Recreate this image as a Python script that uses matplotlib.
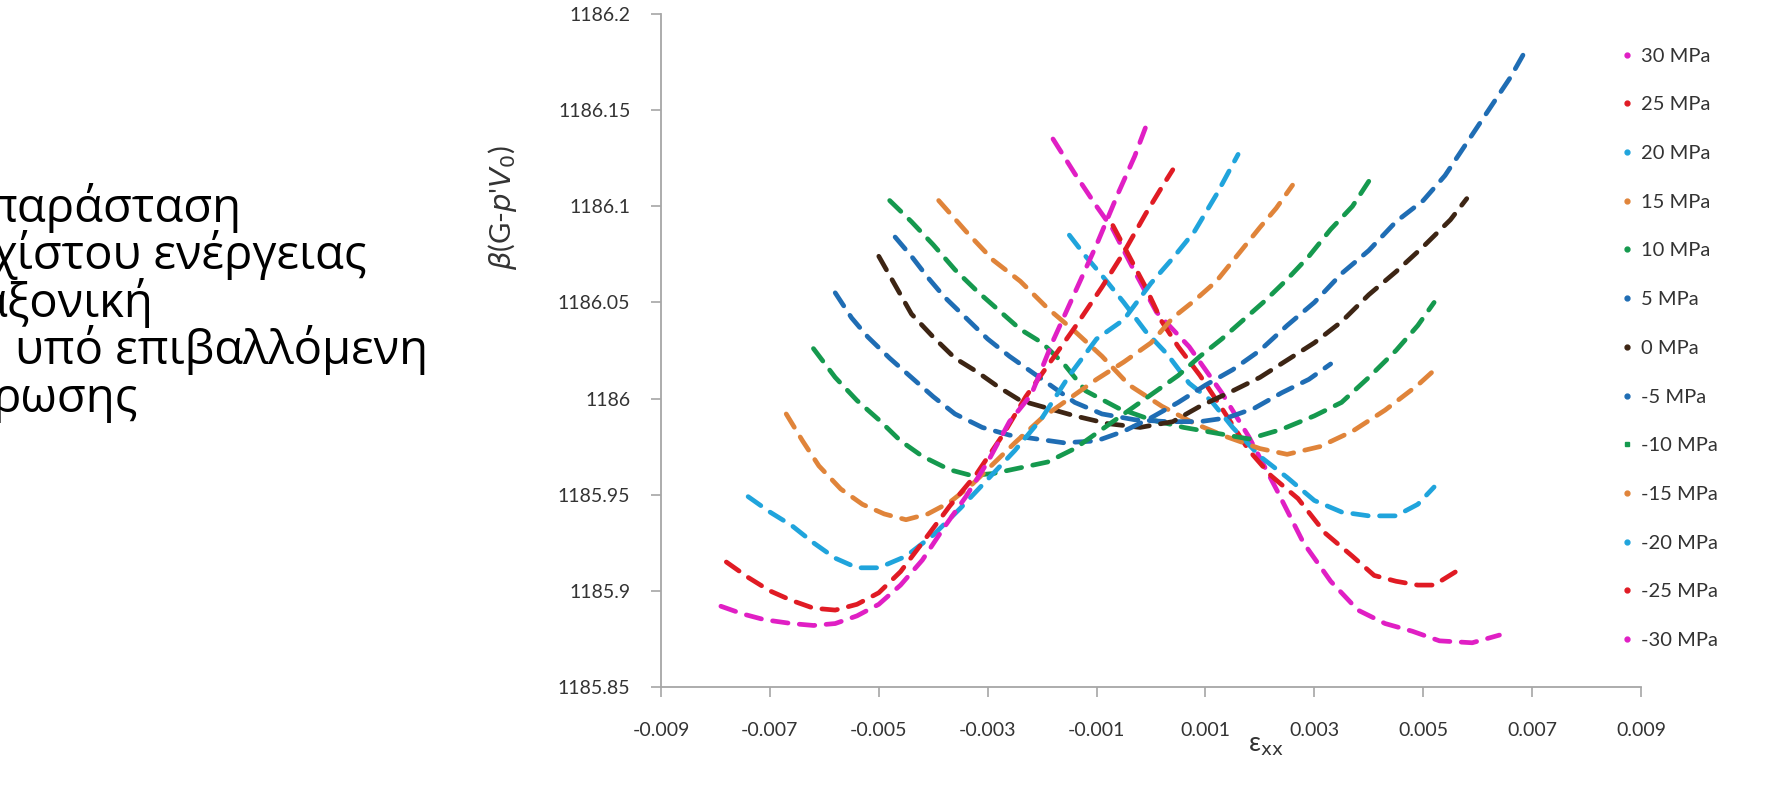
import matplotlib
matplotlib.use('Agg')
import matplotlib.pyplot as plt
from matplotlib.lines import Line2D
from matplotlib.ticker import FormatStrFormatter

# strain values and beta(G - p'V0), one curve per stress
p30_x = [-0.0018, -0.0014, -0.0010, -0.0007, -0.0003, 0.0001, 0.0007, 0.0013, 0.0018, 0.0023, 0.0028, 0.0033, 0.0038, 0.0043, 0.0048, 0.0053, 0.0059, 0.0064]
p30_y = [1186.135, 1186.117, 1186.100, 1186.088, 1186.066, 1186.045, 1186.027, 1186.003, 1185.980, 1185.953, 1185.925, 1185.905, 1185.890, 1185.883, 1185.879, 1185.874, 1185.873, 1185.877]

p25_x = [-0.0007, -0.0004, -0.0001, 0.0002, 0.0005, 0.0009, 0.0013, 0.0018, 0.0022, 0.0027, 0.0032, 0.0037, 0.0041, 0.0045, 0.0049, 0.0052, 0.0056]
p25_y = [1186.090, 1186.074, 1186.058, 1186.040, 1186.027, 1186.012, 1185.995, 1185.973, 1185.960, 1185.948, 1185.930, 1185.918, 1185.908, 1185.905, 1185.903, 1185.903, 1185.910]

p20_x = [-0.0015, -0.0012, -0.0009, -0.0005, -0.0001, 0.0003, 0.0007, 0.0011, 0.0015, 0.0020, 0.0025, 0.0030, 0.0035, 0.0040, 0.0045, 0.0049, 0.0052]
p20_y = [1186.085, 1186.074, 1186.064, 1186.050, 1186.035, 1186.023, 1186.008, 1185.999, 1185.985, 1185.970, 1185.959, 1185.947, 1185.941, 1185.939, 1185.939, 1185.945, 1185.954]

p15_x = [-0.0039, -0.0034, -0.0029, -0.0024, -0.0019, -0.0014, -0.0009, -0.0004, 0.0002, 0.0008, 0.0014, 0.0020, 0.0025, 0.0031, 0.0037, 0.0043, 0.0049, 0.00525]
p15_y = [1186.103, 1186.087, 1186.072, 1186.061, 1186.047, 1186.035, 1186.022, 1186.007, 1185.996, 1185.987, 1185.980, 1185.974, 1185.971, 1185.975, 1185.983, 1185.994, 1186.007, 1186.016]

p10_x = [-0.0048, -0.0044, -0.0040, -0.0036, -0.0032, -0.0028, -0.0024, -0.0020, -0.0016, -0.0012, -0.0006, 0.0000, 0.0006, 0.0012, 0.0018, 0.0024, 0.0030, 0.0035, 0.0040, 0.0045, 0.0049, 0.0052]
p10_y = [1186.103, 1186.092, 1186.080, 1186.067, 1186.056, 1186.046, 1186.036, 1186.029, 1186.018, 1186.004, 1185.995, 1185.989, 1185.985, 1185.982, 1185.979, 1185.984, 1185.991, 1185.998, 1186.011, 1186.025, 1186.038, 1186.050]

p5_x = [-0.0047, -0.0044, -0.0041, -0.0038, -0.0034, -0.0030, -0.0026, -0.0022, -0.0018, -0.0014, -0.0009, -0.0003, 0.0003, 0.0009, 0.0014, 0.0019, 0.0024, 0.0029, 0.0033]
p5_y = [1186.084, 1186.074, 1186.063, 1186.053, 1186.042, 1186.031, 1186.022, 1186.014, 1186.006, 1185.998, 1185.992, 1185.989, 1185.988, 1185.988, 1185.990, 1185.995, 1186.003, 1186.010, 1186.018]

p0_x = [-0.0050, -0.0047, -0.0044, -0.0040, -0.0036, -0.0032, -0.0028, -0.0024, -0.0019, -0.0014, -0.0008, -0.0002, 0.0004, 0.0009, 0.0015, 0.0020, 0.0025, 0.0030, 0.0035, 0.0040, 0.0045, 0.0050, 0.0055, 0.0058]
p0_y = [1186.074, 1186.059, 1186.044, 1186.032, 1186.021, 1186.014, 1186.006, 1185.999, 1185.995, 1185.991, 1185.987, 1185.985, 1185.988, 1185.996, 1186.004, 1186.011, 1186.020, 1186.029, 1186.040, 1186.054, 1186.066, 1186.079, 1186.093, 1186.104]

m5_x = [-0.0058, -0.0055, -0.0052, -0.0048, -0.0044, -0.0040, -0.0036, -0.0031, -0.0026, -0.0021, -0.0016, -0.0010, -0.0005, 0.0000, 0.0005, 0.0010, 0.0015, 0.0020, 0.0025, 0.0030, 0.0035, 0.0040, 0.0045, 0.0050, 0.0054, 0.0058, 0.0062, 0.0066, 0.0069]
m5_y = [1186.055, 1186.042, 1186.032, 1186.021, 1186.011, 1186.001, 1185.992, 1185.985, 1185.981, 1185.979, 1185.977, 1185.978, 1185.983, 1185.990, 1185.998, 1186.007, 1186.015, 1186.025, 1186.038, 1186.050, 1186.065, 1186.077, 1186.092, 1186.103, 1186.116, 1186.133, 1186.150, 1186.167, 1186.182]

m10_x = [-0.0062, -0.0058, -0.0054, -0.0050, -0.0046, -0.0042, -0.0037, -0.0033, -0.0029, -0.0024, -0.0019, -0.0014, -0.0009, -0.0004, 0.0001, 0.0005, 0.0009, 0.0013, 0.0017, 0.0021, 0.0025, 0.0029, 0.0033, 0.0037, 0.0040]
m10_y = [1186.026, 1186.011, 1185.999, 1185.989, 1185.978, 1185.970, 1185.963, 1185.960, 1185.961, 1185.964, 1185.967, 1185.974, 1185.984, 1185.994, 1186.004, 1186.012, 1186.022, 1186.031, 1186.041, 1186.051, 1186.062, 1186.074, 1186.088, 1186.100, 1186.113]

m15_x = [-0.0067, -0.0064, -0.0061, -0.0057, -0.0053, -0.0049, -0.0045, -0.0041, -0.0037, -0.0033, -0.0029, -0.0025, -0.0020, -0.0015, -0.0010, -0.0005, 0.0000, 0.0004, 0.0008, 0.0012, 0.0016, 0.0020, 0.0023, 0.0026]
m15_y = [1185.992, 1185.978, 1185.965, 1185.953, 1185.945, 1185.940, 1185.937, 1185.940, 1185.946, 1185.955, 1185.966, 1185.977, 1185.990, 1186.000, 1186.010, 1186.019, 1186.029, 1186.042, 1186.051, 1186.061, 1186.075, 1186.089, 1186.099, 1186.111]

m20_x = [-0.0074, -0.0070, -0.0066, -0.0062, -0.0058, -0.0054, -0.0050, -0.0045, -0.0040, -0.0035, -0.0030, -0.0025, -0.0020, -0.0015, -0.0010, -0.0005, 0.0000, 0.0004, 0.0008, 0.0012, 0.0016]
m20_y = [1185.949, 1185.941, 1185.934, 1185.925, 1185.917, 1185.912, 1185.912, 1185.918, 1185.929, 1185.943, 1185.958, 1185.973, 1185.990, 1186.012, 1186.031, 1186.041, 1186.060, 1186.073, 1186.087, 1186.106, 1186.127]

m25_x = [-0.0078, -0.0074, -0.0070, -0.0066, -0.0062, -0.0058, -0.0054, -0.0050, -0.0046, -0.0042, -0.0037, -0.0032, -0.0027, -0.0023, -0.0019, -0.0014, -0.0009, -0.0005, -0.0001, 0.0002, 0.0004]
m25_y = [1185.915, 1185.907, 1185.900, 1185.895, 1185.891, 1185.890, 1185.893, 1185.899, 1185.910, 1185.925, 1185.944, 1185.961, 1185.982, 1186.001, 1186.017, 1186.037, 1186.058, 1186.076, 1186.096, 1186.110, 1186.119]

m30_x = [-0.0079, -0.0075, -0.0071, -0.0066, -0.0062, -0.0058, -0.0054, -0.0050, -0.0046, -0.0042, -0.0038, -0.0034, -0.0030, -0.0026, -0.0022, -0.0018, -0.0014, -0.0010, -0.0006, -0.0003, -0.0001]
m30_y = [1185.892, 1185.888, 1185.885, 1185.883, 1185.882, 1185.883, 1185.887, 1185.893, 1185.903, 1185.916, 1185.933, 1185.949, 1185.967, 1185.988, 1186.002, 1186.030, 1186.055, 1186.080, 1186.107, 1186.126, 1186.141]

labels = ['30 MPa', '25 MPa', '20 MPa', '15 MPa', '10 MPa', '5 MPa', '0 MPa',
          '-5 MPa', '-10 MPa', '-15 MPa', '-20 MPa', '-25 MPa', '-30 MPa']
xs = [p30_x, p25_x, p20_x, p15_x, p10_x, p5_x, p0_x, m5_x, m10_x, m15_x, m20_x, m25_x, m30_x]
ys = [p30_y, p25_y, p20_y, p15_y, p10_y, p5_y, p0_y, m5_y, m10_y, m15_y, m20_y, m25_y, m30_y]

magenta, red, lblue, orange = '#e01fc4', '#e01b24', '#20a4dc', '#e0843a'
green, blue, brown = '#15994e', '#1f6db4', '#3d2514'
colors = [magenta, red, lblue, orange, green, blue, brown,
          blue, green, orange, lblue, red, magenta]

x_ticks = [-0.009, -0.007, -0.005, -0.003, -0.001, 0.001, 0.003, 0.005, 0.007, 0.009]
y_ticks = [1185.85, 1185.9, 1185.95, 1186, 1186.05, 1186.1, 1186.15, 1186.2]

tick_font = ['Lato', 'DejaVu Sans']

fig = plt.figure(figsize=(17.69, 8), dpi=100)
ax = fig.add_axes([661/1769, 1 - 687/800, 980/1769, 673/800])

for x, y, c in zip(xs, ys, colors):
    ax.plot(x, y, color=c, lw=3.4, linestyle=(0, (3.3, 2.4)),
            dash_capstyle='round', solid_capstyle='round')

ax.set_xlim(-0.009, 0.009)
ax.set_ylim(1185.85, 1186.2)
ax.set_xticks(x_ticks)
ax.set_yticks(y_ticks)
ax.xaxis.set_major_formatter(FormatStrFormatter('%g'))
ax.yaxis.set_major_formatter(FormatStrFormatter('%g'))
for s in ['top', 'right']:
    ax.spines[s].set_visible(False)
for s in ['left', 'bottom']:
    ax.spines[s].set_color('#a6a6a6')
    ax.spines[s].set_linewidth(1.3)
ax.tick_params(axis='both', direction='out', length=7, width=1.2, color='#a6a6a6',
               labelcolor='#333333', labelsize=14)
ax.tick_params(axis='y', pad=15)
ax.tick_params(axis='x', pad=18)
for lab in ax.get_xticklabels() + ax.get_yticklabels():
    lab.set_family(tick_font)

# axis titles
fig.text(502/1769, 1 - 207/800, r"$\beta$(G-$p$'$V_0$)", rotation=90, ha='center', va='center',
         fontsize=21, color='#333333', family=tick_font)
fig.text(1266/1769, 1 - 745/800, r"ε$_{\mathrm{xx}}$", ha='center', va='center',
         fontsize=19, color='#333333', family=tick_font)

# legend with small markers only
handles = []
for i, c in enumerate(colors):
    mk = 's' if labels[i] == '-10 MPa' else 'o'
    handles.append(Line2D([], [], ls='none', marker=mk, ms=3.5, color=c))
fig.legend(handles, labels, loc='upper left', bbox_to_anchor=(1621/1769, 1 - 47.5/800),
           frameon=False, handlelength=0.6, handletextpad=0.4, labelspacing=1.57,
           borderpad=0, borderaxespad=0, prop={'family': tick_font, 'size': 14.5},
           labelcolor='#333333')

# slide text cut off at the left edge
greek_lines = ['παράσταση', 'χίστου ενέργειας', 'αξονική', 'υπό επιβαλλόμενη', 'ρωσης']
greek_x = [-14, -9, -22, 15, -8]
for i, line in enumerate(greek_lines):
    fig.text(greek_x[i]/1769, 1 - (222 + i*47.4)/800, line, ha='left', va='baseline',
             fontsize=34, family=['Open Sans', 'DejaVu Sans'], color='black')

fig.savefig('out.png', dpi=100)
